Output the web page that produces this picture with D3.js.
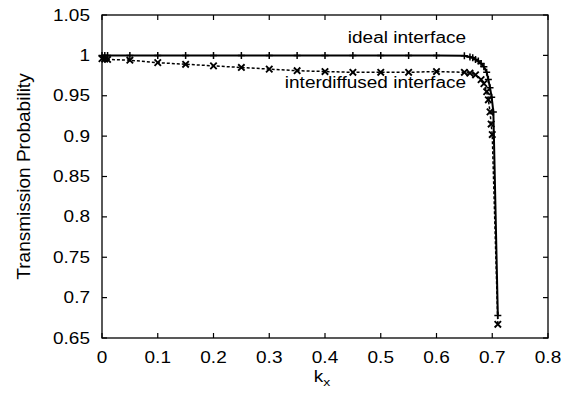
<!DOCTYPE html>
<meta charset="utf-8">
<title>Transmission Probability</title>
<style>
  body { margin: 0; background: #fff; }
  text { font-family: "Liberation Sans", Arial, Helvetica, sans-serif; fill: #000; }
</style>
<body>
<script src="https://d3js.org/d3.v7.min.js"></script>
<script>
  // ideal interface (solid line, "+" markers)
  var idealK = [0, 0.005, 0.01, 0.05, 0.1, 0.15, 0.2, 0.25, 0.3, 0.35, 0.4, 0.45, 0.5, 0.55, 0.6,
                0.65, 0.66, 0.665, 0.67, 0.675, 0.68, 0.685, 0.69, 0.693, 0.696, 0.699, 0.702, 0.71];
  var idealT = [1, 1, 1, 1, 1, 1, 1, 1, 1, 1, 1, 1, 1, 1, 1,
                0.9995, 0.998, 0.997, 0.995, 0.993, 0.99, 0.986, 0.979, 0.97, 0.96, 0.948, 0.93, 0.678];

  // interdiffused interface (dashed line, "x" markers)
  var interK = [0, 0.005, 0.01, 0.05, 0.1, 0.15, 0.2, 0.25, 0.3, 0.35, 0.4, 0.45, 0.5, 0.55, 0.6,
                0.65, 0.66, 0.67, 0.68, 0.685, 0.69, 0.693, 0.696, 0.698, 0.70, 0.71];
  var interT = [0.996, 0.9955, 0.995, 0.994, 0.991, 0.989, 0.987, 0.985, 0.983, 0.981, 0.980, 0.979, 0.979, 0.979, 0.980,
                0.979, 0.978, 0.976, 0.970, 0.965, 0.955, 0.945, 0.930, 0.915, 0.902, 0.667];

  var xTicks = [0, 0.1, 0.2, 0.3, 0.4, 0.5, 0.6, 0.7, 0.8];
  var yTicks = [0.65, 0.7, 0.75, 0.8, 0.85, 0.9, 0.95, 1, 1.05];

  var W = 575, H = 401;
  var margin = {top: 15, right: 27, bottom: 63, left: 102},
      width = W - margin.left - margin.right,
      height = H - margin.top - margin.bottom;

  var svg = d3.select("body").append("svg")
      .attr("width", W)
      .attr("height", H);

  var g = svg.append("g")
      .attr("transform", "translate(" + margin.left + "," + margin.top + ")");

  var x = d3.scaleLinear().domain([0, 0.8]).range([0, width]);
  var y = d3.scaleLinear().domain([0.65, 1.05]).range([height, 0]);

  // horizontal text is slightly squashed vertically in the original
  function label(sel, px, py, str, anchor) {
    return sel.append("text")
      .attr("transform", "translate(" + px + "," + py + ") scale(1,0.82)")
      .attr("text-anchor", anchor)
      .style("font-size", "19px")
      .text(str);
  }

  // ticks, inward on all four sides
  var tk = 5;
  xTicks.forEach(function(t) {
    g.append("line").attr("x1", x(t)).attr("x2", x(t)).attr("y1", height).attr("y2", height - tk)
      .attr("stroke", "#000").attr("stroke-width", 1.2);
    g.append("line").attr("x1", x(t)).attr("x2", x(t)).attr("y1", 0).attr("y2", tk)
      .attr("stroke", "#000").attr("stroke-width", 1.2);
    label(g, x(t), height + 25, d3.format("")(t), "middle");
  });
  yTicks.forEach(function(t) {
    g.append("line").attr("x1", 0).attr("x2", tk).attr("y1", y(t)).attr("y2", y(t))
      .attr("stroke", "#000").attr("stroke-width", 1.2);
    g.append("line").attr("x1", width).attr("x2", width - tk).attr("y1", y(t)).attr("y2", y(t))
      .attr("stroke", "#000").attr("stroke-width", 1.2);
    label(g, -12, y(t) + 5.5, d3.format("")(+t.toFixed(2)), "end");
  });

  // frame
  g.append("rect")
    .attr("width", width).attr("height", height)
    .attr("fill", "none").attr("stroke", "#000").attr("stroke-width", 1.3);

  var ideal = idealK.map(function(k, i) { return [k, idealT[i]]; });
  var inter = interK.map(function(k, i) { return [k, interT[i]]; });

  var line = d3.line()
    .x(function(d) { return x(d[0]); })
    .y(function(d) { return y(d[1]); });

  g.append("path").datum(inter)
    .attr("d", line)
    .attr("fill", "none").attr("stroke", "#000")
    .attr("stroke-width", 1.5).attr("stroke-dasharray", "3,2");

  g.append("path").datum(ideal)
    .attr("d", line)
    .attr("fill", "none").attr("stroke", "#000")
    .attr("stroke-width", 2);

  // markers
  var s = 3.5;
  g.selectAll(".plus").data(ideal).enter().append("path")
    .attr("class", "plus")
    .attr("d", function(d) {
      var cx = x(d[0]), cy = y(d[1]);
      return "M" + (cx - s) + "," + cy + "H" + (cx + s) + "M" + cx + "," + (cy - s) + "V" + (cy + s);
    })
    .attr("stroke", "#000").attr("stroke-width", 1.5);

  var c = 3.2;
  g.selectAll(".cross").data(inter).enter().append("path")
    .attr("class", "cross")
    .attr("d", function(d) {
      var cx = x(d[0]), cy = y(d[1]);
      return "M" + (cx - c) + "," + (cy - c) + "L" + (cx + c) + "," + (cy + c) +
             "M" + (cx - c) + "," + (cy + c) + "L" + (cx + c) + "," + (cy - c);
    })
    .attr("stroke", "#000").attr("stroke-width", 1.9);

  // curve labels
  label(svg, 466, 43, "ideal interface", "end");
  label(svg, 466, 88, "interdiffused interface", "end");

  // axis titles
  var kx = label(svg, margin.left + width / 2 - 3, 382, "k", "middle");
  kx.append("tspan").attr("dy", 5).style("font-size", "14px").text("x");

  svg.append("text")
    .attr("transform", "translate(30," + (margin.top + height / 2) + ") rotate(-90)")
    .attr("text-anchor", "middle")
    .style("font-size", "19px")
    .text("Transmission Probability");
</script>
</body>
